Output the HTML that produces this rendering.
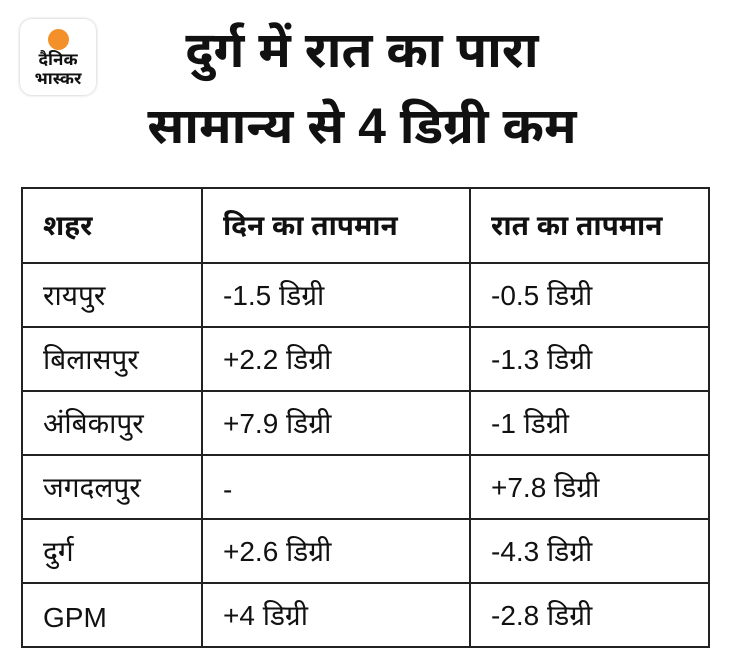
<!DOCTYPE html>
<html><head><meta charset="utf-8">
<style>
body{margin:0;width:730px;height:669px;background:#fff;font-family:"Liberation Sans","Noto Sans Devanagari","Lohit Devanagari",sans-serif;color:#111;position:relative;overflow:hidden}
.logo{position:absolute;left:20px;top:19px;width:76px;height:76px;border-radius:12px;background:#fff;box-shadow:0 0 3px rgba(0,0,0,.25)}
.sun{position:absolute;left:28px;top:10px;width:21px;height:21px;border-radius:50%;background:#f4902a}
.lt{position:absolute;left:0;width:76px;text-align:center;font-weight:bold;font-size:17px;line-height:18px}
.title{position:absolute;left:62px;width:600px;text-align:center;font-weight:bold;font-size:50px;color:#111;line-height:58px}
table{position:absolute;left:21px;top:187px;width:689px;border-collapse:collapse}
td{border:2px solid #222;font-size:28px;padding:6px 0 0 20px;height:56px;vertical-align:middle}
tr:first-child td{height:67px;font-weight:bold}
</style></head><body>
<div class="logo"><div class="sun"></div><div class="lt" style="top:32px">दैनिक</div><div class="lt" style="top:51px">भास्कर</div></div>
<div class="title" style="top:21px">दुर्ग में रात का पारा</div>
<div class="title" style="top:97px">सामान्य से 4 डिग्री कम</div>
<table>
<colgroup><col style="width:180px"><col style="width:268px"><col></colgroup>
<tr><td>शहर</td><td>दिन का तापमान</td><td>रात का तापमान</td></tr>
<tr><td>रायपुर</td><td>-1.5 डिग्री</td><td>-0.5 डिग्री</td></tr>
<tr><td>बिलासपुर</td><td>+2.2 डिग्री</td><td>-1.3 डिग्री</td></tr>
<tr><td>अंबिकापुर</td><td>+7.9 डिग्री</td><td>-1 डिग्री</td></tr>
<tr><td>जगदलपुर</td><td>-</td><td>+7.8 डिग्री</td></tr>
<tr><td>दुर्ग</td><td>+2.6 डिग्री</td><td>-4.3 डिग्री</td></tr>
<tr><td>GPM</td><td>+4 डिग्री</td><td>-2.8 डिग्री</td></tr>
</table>
</body></html>
